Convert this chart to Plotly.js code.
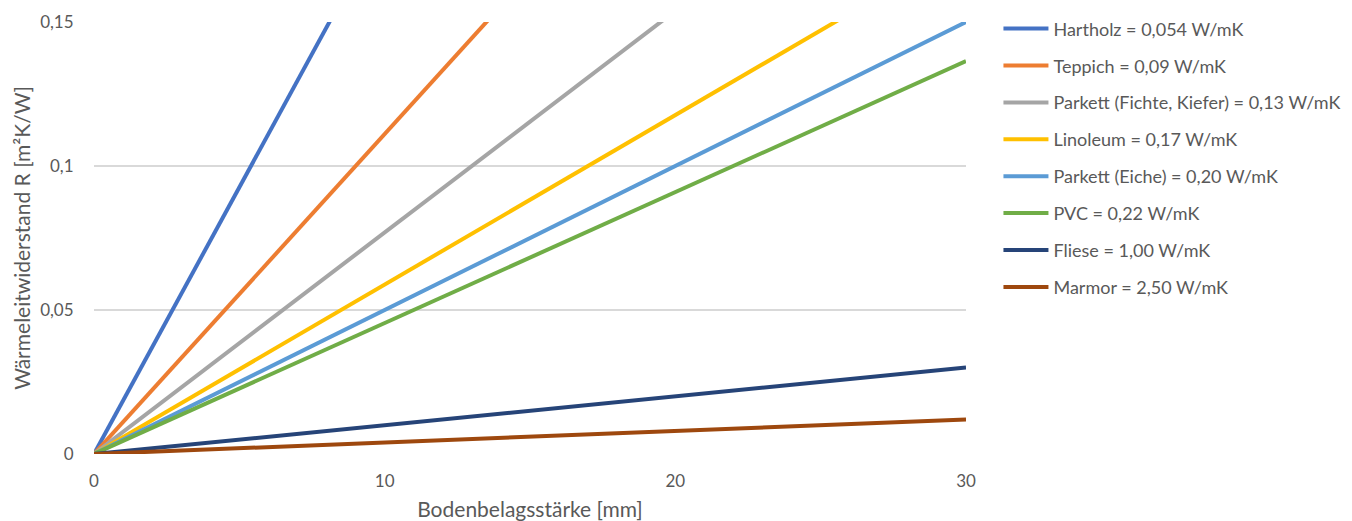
<!DOCTYPE html>
<html>
<head>
<meta charset="utf-8">
<script src="https://cdn.plot.ly/plotly-3.0.1.min.js"></script>
<style>
  html, body { margin: 0; padding: 0; background: #fff; }
  #chart { width: 1352px; height: 521px; }
</style>
</head>
<body>
<div id="chart"></div>
<script>
// Floor covering thickness in mm
const thickness = [0, 30];

// Thermal resistance R = d / λ in m²K/W at each thickness
const hartholz = [0, 0.5556];
const teppich = [0, 0.3333];
const parkettFichte = [0, 0.2308];
const linoleum = [0, 0.1765];
const parkettEiche = [0, 0.15];
const pvc = [0, 0.1364];
const fliese = [0, 0.03];
const marmor = [0, 0.012];

const seriesNames = [
  'Hartholz = 0,054 W/mK',
  'Teppich = 0,09 W/mK',
  'Parkett (Fichte, Kiefer) = 0,13 W/mK',
  'Linoleum = 0,17 W/mK',
  'Parkett (Eiche) = 0,20 W/mK',
  'PVC = 0,22 W/mK',
  'Fliese = 1,00 W/mK',
  'Marmor = 2,50 W/mK'
];
const seriesValues = [hartholz, teppich, parkettFichte, linoleum, parkettEiche, pvc, fliese, marmor];
const seriesColors = ['#4472C4', '#ED7D31', '#A5A5A5', '#FFC000', '#5B9BD5', '#70AD47', '#264478', '#9E480E'];

const yTicks = [0, 0.05, 0.1, 0.15];
const xTicks = [0, 10, 20, 30];

const traces = seriesValues.map((vals, i) => ({
  type: 'scatter',
  mode: 'lines',
  x: thickness,
  y: vals,
  name: seriesNames[i],
  legendgroup: 'g' + i,
  line: { color: seriesColors[i], width: 4 },
  hoverinfo: 'x+y+name'
}));

const textColor = '#595959';
const fontFamily = 'Lato, "Open Sans", sans-serif';

const layout = {
  width: 1352,
  height: 521,
  margin: { l: 94, r: 386, t: 22, b: 67 },
  paper_bgcolor: '#ffffff',
  plot_bgcolor: '#ffffff',
  separators: ',.',
  font: { family: fontFamily, size: 17, color: textColor },
  showlegend: true,
  legend: {
    xref: 'container',
    yref: 'container',
    x: 0.7385,
    xanchor: 'left',
    y: 0.980,
    yanchor: 'top',
    maxheight: 500,
    font: { family: fontFamily, size: 18, color: textColor },
    tracegroupgap: 10.5,
    itemwidth: 45,
    bgcolor: 'rgba(0,0,0,0)'
  },
  xaxis: {
    range: [0, 30],
    tickvals: xTicks,
    showgrid: false,
    zeroline: false,
    showline: false,
    ticks: 'outside',
    ticklen: 12,
    tickcolor: 'rgba(0,0,0,0)',
    tickfont: { family: fontFamily, size: 17, color: textColor },
    title: { text: 'Bodenbelagsstärke [mm]', standoff: 20, font: { family: fontFamily, size: 21, color: textColor } }
  },
  yaxis: {
    range: [0, 0.15],
    tickvals: yTicks,
    showgrid: true,
    gridcolor: '#D9D9D9',
    gridwidth: 1.5,
    zeroline: false,
    showline: false,
    ticks: 'outside',
    ticklen: 16,
    tickcolor: 'rgba(0,0,0,0)',
    tickfont: { family: fontFamily, size: 17, color: textColor },
    title: { text: 'Wärmeleitwiderstand R [m²K/W]', standoff: 3, font: { family: fontFamily, size: 21, color: textColor } }
  }
};

Plotly.newPlot('chart', traces, layout, { displayModeBar: false, staticPlot: true });
</script>
</body>
</html>
